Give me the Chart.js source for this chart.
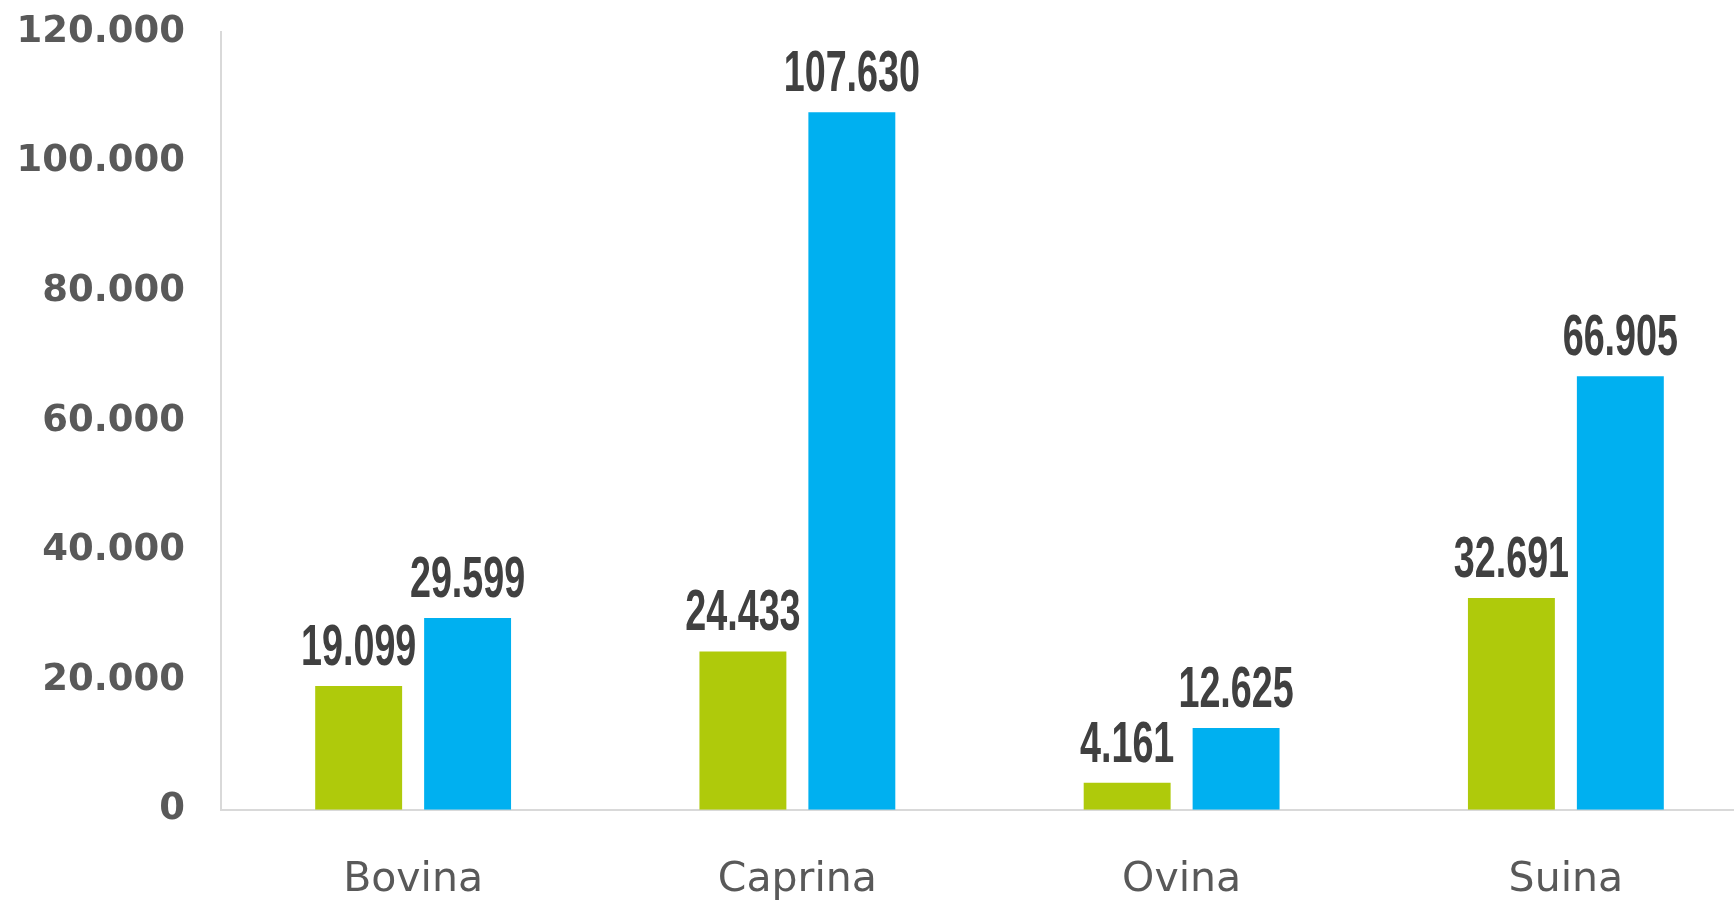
<!DOCTYPE html>
<html>
<head>
<meta charset="utf-8">
<script src="https://cdn.jsdelivr.net/npm/chart.js@4/dist/chart.umd.min.js"></script>
<style>
  html, body { margin: 0; padding: 0; background: #ffffff; overflow: hidden; }
  #wrap { width: 1760px; height: 900px; position: relative; }
</style>
</head>
<body>
<div id="wrap"><canvas id="c"></canvas></div>
<script>
const categories = ["Bovina", "Caprina", "Ovina", "Suina"];
const seriesNames = ["Serie 1", "Serie 2"];
const seriesGreen = [19099, 24433, 4161, 32691];
const seriesBlue = [29599, 107630, 12625, 66905];
const yTicks = [0, 20000, 40000, 60000, 80000, 100000, 120000];

function fmt(v) {
  return String(Math.round(v)).replace(/\B(?=(\d{3})+(?!\d))/g, ".");
}

const labelPlugin = {
  id: 'barLabels',
  afterDatasetsDraw(chart) {
    const ctx = chart.ctx;
    ctx.save();
    ctx.fillStyle = '#404040';
    ctx.font = 'bold 58px "Liberation Sans", Arial, sans-serif';
    ctx.textAlign = 'center';
    ctx.textBaseline = 'alphabetic';
    chart.data.datasets.forEach((ds, di) => {
      const meta = chart.getDatasetMeta(di);
      meta.data.forEach((bar, i) => {
        ctx.save();
        ctx.translate(bar.x, bar.y - 21);
        ctx.scale(0.65, 1);
        ctx.fillText(fmt(ds.data[i]), 0, 0);
        ctx.restore();
      });
    });
    ctx.restore();
  }
};

new Chart(document.getElementById('c'), {
  type: 'bar',
  data: {
    labels: categories,
    datasets: [
      { label: seriesNames[0], data: seriesGreen, backgroundColor: '#AFCA0B', borderWidth: 0,
        barPercentage: 0.798, categoryPercentage: 0.567 },
      { label: seriesNames[1], data: seriesBlue, backgroundColor: '#00B0F0', borderWidth: 0,
        barPercentage: 0.798, categoryPercentage: 0.567 }
    ]
  },
  options: {
    responsive: true,
    maintainAspectRatio: false,
    animation: false,
    layout: { padding: { top: 32, right: 2, bottom: -5, left: 0 } },
    plugins: {
      legend: { display: false },
      tooltip: { enabled: false }
    },
    scales: {
      x: {
        grid: { display: false, drawTicks: true, tickLength: 46 },
        border: { display: true, color: '#d9d9d9', width: 2 },
        ticks: {
          color: '#595959',
          font: { family: '"DejaVu Sans", Verdana, sans-serif', size: 41 },
          padding: 0
        }
      },
      y: {
        min: 0,
        max: 120000,
        afterFit(scale) { scale.width = 221; },
        afterBuildTicks(scale) { scale.ticks = yTicks.map(v => ({ value: v })); },
        grid: { display: false, drawTicks: true, tickLength: 36 },
        border: { display: true, color: '#d9d9d9', width: 2 },
        ticks: {
          color: '#595959',
          font: { family: '"DejaVu Sans", Verdana, sans-serif', size: 37, weight: 'bold' },
          padding: 0,
          callback: (v) => fmt(v)
        }
      }
    }
  },
  plugins: [labelPlugin]
});
</script>
</body>
</html>
